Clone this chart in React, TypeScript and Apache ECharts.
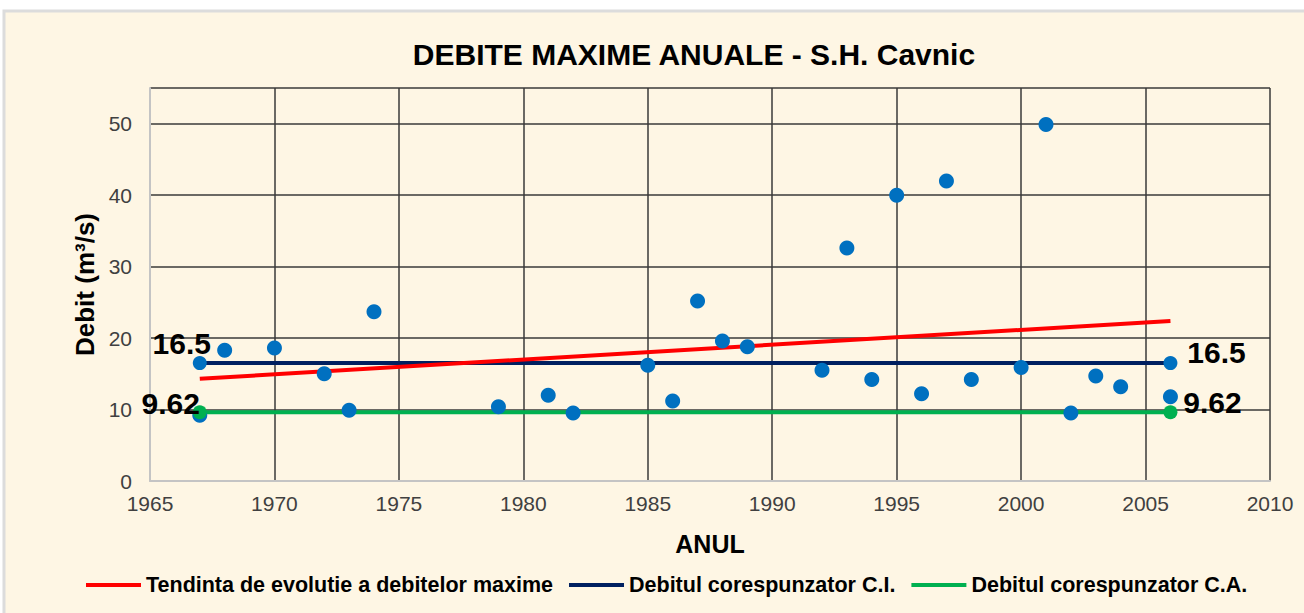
import React, { useEffect, useRef } from "react";
import * as echarts from "echarts";

// ---- data ----
const years = [1967, 1968, 1970, 1972, 1973, 1974, 1979, 1981, 1982, 1985, 1986, 1987, 1988, 1989, 1992, 1993, 1994, 1995, 1996, 1997, 1998, 2000, 2001, 2002, 2003, 2004, 2006];
const debit = [9.2, 18.3, 18.6, 15.0, 9.9, 23.7, 10.4, 12.0, 9.5, 16.2, 11.2, 25.2, 19.6, 18.8, 15.5, 32.6, 14.2, 40.0, 12.2, 42.0, 14.2, 15.9, 49.9, 9.5, 14.7, 13.2, 11.8];

const lineYears = [1967, 2006];
const trendValues = [14.3, 22.4];
const ciValues = [16.5, 16.5];
const caValues = [9.62, 9.62];

const xTickMin = 1965;
const xTickMax = 2010;
const xTickStep = 5;
const yTickMin = 0;
const yTickMax = 55;
const yTickStep = 10;

const seriesNames = [
  "Tendinta de evolutie a debitelor maxime",
  "Debitul corespunzator C.I.",
  "Debitul corespunzator C.A.",
];

const FONT = "'Liberation Sans', Arial, Helvetica, sans-serif";

export default function App() {
  const ref = useRef<HTMLDivElement>(null);

  useEffect(() => {
    if (!ref.current) return;
    const chart = echarts.init(ref.current, null, { renderer: "svg" });

    const bigLabel = {
      show: true,
      position: "inside",
      fontSize: 30,
      fontWeight: "bold",
      fontFamily: FONT,
      color: "#000",
      formatter: (p: any) => String(p.value[1]),
    };

    const ciOffsets = [[-18, -20], [46, -11]];
    const caOffsets = [[-29, -9], [42, -10]];

    const option: any = {
      animation: false,
      backgroundColor: "#ffffff",
      graphic: [
        {
          type: "rect",
          z: -10,
          shape: { x: 4, y: 11, width: 1310, height: 610 },
          style: { fill: "#FEF6E4", stroke: "#dcdcdc", lineWidth: 3 },
          silent: true,
        },
      ],
      title: {
        text: "DEBITE MAXIME ANUALE - S.H. Cavnic",
        left: 689,
        top: 34,
        textAlign: "center",
        textStyle: { fontSize: 30, fontWeight: "bold", fontFamily: FONT, color: "#000" },
      },
      legend: {
        data: seriesNames,
        left: 86,
        top: 574,
        padding: 0,
        icon: "rect",
        itemWidth: 55,
        itemHeight: 4,
        itemGap: 16,
        textStyle: { fontSize: 21.5, fontWeight: "bold", fontFamily: FONT, color: "#000" },
      },
      grid: { left: 150, right: 34, top: 88, bottom: 132 },
      xAxis: {
        type: "value",
        min: xTickMin,
        max: xTickMax,
        interval: xTickStep,
        name: "ANUL",
        nameLocation: "middle",
        nameGap: 50,
        nameTextStyle: { fontSize: 25, fontWeight: "bold", fontFamily: FONT, color: "#000" },
        axisLine: { show: true, lineStyle: { color: "#c4c4c4", width: 2 } },
        axisTick: { show: false },
        axisLabel: {
          fontSize: 21,
          fontFamily: FONT,
          color: "#404040",
          margin: 12,
          formatter: (v: number) => String(v),
        },
        splitLine: { show: true, showMinLine: false, lineStyle: { color: "#3a3a3a", width: 1.5 } },
      },
      yAxis: {
        type: "value",
        min: yTickMin,
        max: yTickMax,
        interval: yTickStep,
        name: "Debit (m³/s)",
        nameLocation: "middle",
        nameRotate: 90,
        nameGap: 50,
        nameTextStyle: { fontSize: 26, fontWeight: "bold", fontFamily: FONT, color: "#000" },
        axisLine: { show: true, lineStyle: { color: "#c4c4c4", width: 2 } },
        axisTick: { show: false },
        axisLabel: {
          fontSize: 21,
          fontFamily: FONT,
          color: "#404040",
          margin: 18,
          showMaxLabel: false,
        },
        splitLine: { show: true, showMinLine: false, lineStyle: { color: "#3a3a3a", width: 1.5 } },
      },
      series: [
        {
          name: seriesNames[1],
          type: "line",
          z: 2,
          data: lineYears.map((y, i) => ({
            value: [y, ciValues[i]],
            itemStyle: { color: "#0070C0", opacity: 1 },
            label: { ...bigLabel, offset: ciOffsets[i] },
          })),
          symbol: "circle",
          symbolSize: 14,
          showSymbol: true,
          itemStyle: { color: "#002060" },
          lineStyle: { color: "#002060", width: 4 },
          color: "#002060",
        },
        {
          name: seriesNames[2],
          type: "line",
          z: 2,
          data: lineYears.map((y, i) => [y, caValues[i]]),
          showSymbol: false,
          symbol: "none",
          itemStyle: { color: "#00B050" },
          lineStyle: { color: "#00B050", width: 4 },
          color: "#00B050",
        },
        {
          name: seriesNames[0],
          type: "line",
          z: 2,
          data: lineYears.map((y, i) => [y, trendValues[i]]),
          showSymbol: false,
          symbol: "none",
          itemStyle: { color: "#FF0000" },
          lineStyle: { color: "#FF0000", width: 4 },
          color: "#FF0000",
        },
        {
          name: "Debit maxim anual",
          type: "scatter",
          z: 3,
          data: years.map((y, i) => [y, debit[i]]),
          symbol: "circle",
          symbolSize: 15,
          itemStyle: { color: "#0070C0", opacity: 1 },
        },
        {
          name: "Capete C.A.",
          type: "scatter",
          z: 4,
          data: lineYears.map((y, i) => ({
            value: [y, caValues[i]],
            label: { ...bigLabel, offset: caOffsets[i] },
          })),
          symbol: "circle",
          symbolSize: 14,
          itemStyle: { color: "#00B050", opacity: 1 },
        },
      ],
    };

    chart.setOption(option);
    return () => chart.dispose();
  }, []);

  return (
    <div
      ref={ref}
      style={{ position: "absolute", left: 0, top: 0, width: 1304, height: 613 }}
    />
  );
}
